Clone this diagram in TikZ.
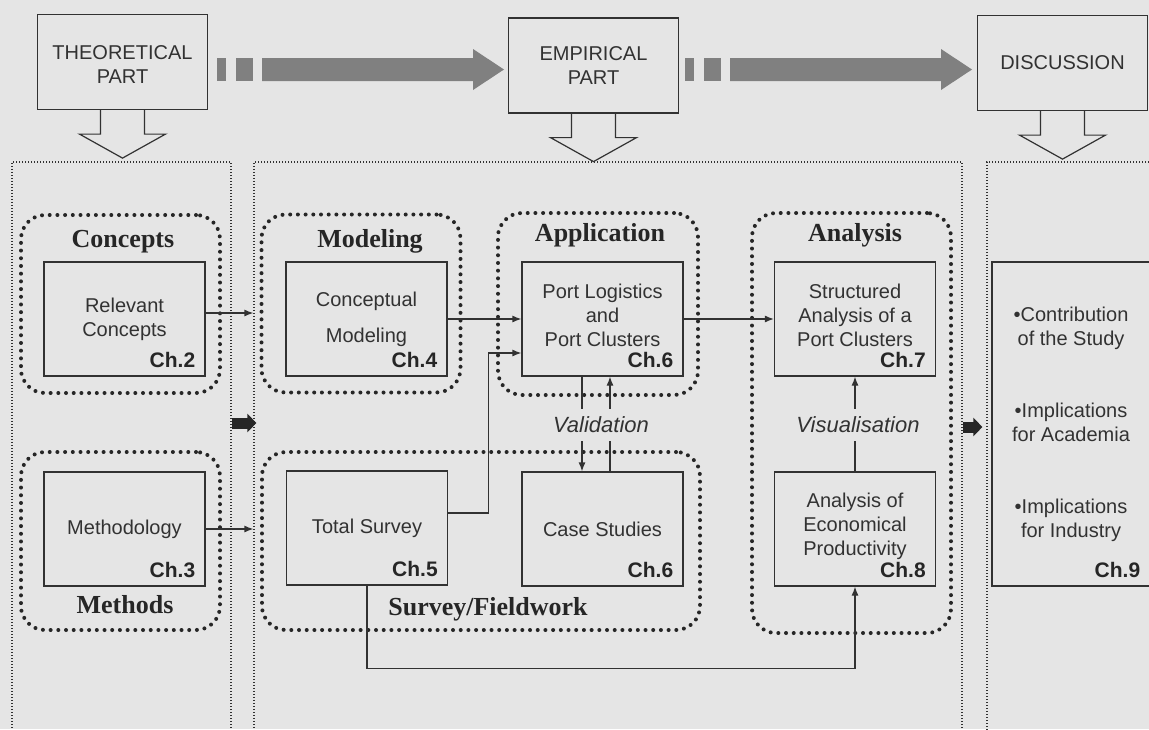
\documentclass[tikz,border=0pt]{standalone}
\usepackage{fontspec}
\setmainfont{Liberation Serif}
\setsansfont{Liberation Sans}
\usepackage{tikz}
\usetikzlibrary{arrows.meta}

\definecolor{bggray}{RGB}{229,229,229}
\definecolor{arrowgray}{RGB}{128,128,128}
\definecolor{ink}{RGB}{50,50,50}

\tikzset{
	partbox/.style={draw=ink, line width=0.6pt, minimum width=85pt, minimum height=47.5pt, align=center, text=ink, font=\sffamily\fontsize{10}{12}\selectfont},
	panel/.style={draw=ink, line width=0.6pt, dash pattern=on 0.6pt off 0.9pt, inner sep=0pt},
	grpbox/.style={draw=black!85, line width=2pt, line cap=round, dash pattern=on 0pt off 3.85pt, rounded corners=12pt, minimum width=99.5pt, minimum height=89pt, inner sep=0pt},
	chbox/.style={draw=ink, line width=0.6pt, minimum width=80.5pt, minimum height=57pt, align=center, inner sep=0pt, text=ink, font=\sffamily\fontsize{10}{12}\selectfont},
	chtext/.style={align=center, inner sep=0pt, text=ink, font=\sffamily\fontsize{10}{12}\selectfont},
	chap/.style={anchor=base east, inner sep=0pt, text=black!85, font=\sffamily\bfseries\fontsize{10.5}{12}\selectfont},
	heading/.style={anchor=base, inner sep=0pt, text=black!85, font=\rmfamily\bfseries\fontsize{13}{15}\selectfont},
	conn/.style={draw=ink, line width=0.6pt, -{Latex[length=4.5pt,width=3.5pt]}},
	midlabel/.style={fill=bggray, inner xsep=2pt, inner ysep=4pt, text=ink, font=\sffamily\itshape\fontsize{11}{13}\selectfont},
	blockarrow/.style={draw=black!85, line width=5.5pt, -{Triangle[length=4.5pt,width=9pt]}}
}

\begin{document}
\begin{tikzpicture}[x=0.5pt, y=-0.5pt]
		\useasboundingbox (0,0) rectangle (1149,729);
		\clip (0,0) rectangle (1149,729);
		\fill[bggray] (0,0) rectangle (1149,729);

		% the three parts on top
		\node[partbox] (theo) at (122.5,62) {\\[-3pt]THEORETICAL\\PART};
		\node[partbox] (emp) at (593.5,65.5) {EMPIRICAL\\PART};
		\node[partbox] (disc) at (1062.5,63) {DISCUSSION};

		% hollow arrows down into the panels
		\foreach \n in {theo,emp,disc}
			\draw[ink, line width=0.6pt] (\n.south) ++(-22,0) -- ++(0,24) -- ++(-21,0) -- ++(43,24) -- ++(43,-24) -- ++(-21,0) -- ++(0,-24);

		% gray progress arrows
		\foreach \xa/\xb in {217/504, 685/972} {
			\fill[arrowgray] (\xa,58) rectangle ++(9,23);
			\fill[arrowgray] (\xa+19,58) rectangle ++(17,23);
			\fill[arrowgray] (\xa+45,58) -- (\xb-31,58) -- (\xb-31,49) -- (\xb,69.5) -- (\xb-31,90) -- (\xb-31,81) -- (\xa+45,81) -- cycle;
		}

		% panels
		\node[panel, minimum width=109.5pt, minimum height=289pt] (pthe) at (121.5,451) {};
		\node[panel, minimum width=354pt, minimum height=289pt] (pemp) at (608,451) {};
		\node[panel, minimum width=86.5pt, minimum height=289pt] (pdis) at (1073.5,451) {};

		% dotted groups
		\node[grpbox] (gconc) at (120.5,304) {};
		\node[grpbox] (gmeth) at (120.5,541) {};
		\node[grpbox] (gmod) at (361,303.5) {};
		\node[grpbox, minimum width=100pt, minimum height=91pt] (gapp) at (598,304) {};
		\node[grpbox, minimum width=219pt] (gsurv) at (481,541) {};
		\node[grpbox, minimum height=210pt] (gana) at (851.5,423) {};

		\node[heading] (hconc) at (123,247) {Concepts};
		\node[heading] (hmod) at (370,247) {Modeling};
		\node[heading] (happ) at (600,241) {Application};
		\node[heading] (hana) at (855,241) {Analysis};
		\node[heading] (hmeth) at (125,613) {Methods};
		\node[heading] (hsurv) at (488,615) {Survey/Fieldwork};

		% chapters
		\node[chbox] (rc) at (124.5,319) {Relevant\\Concepts};
		\node[chbox] (cm) at (366.5,319) {Conceptual\\[6pt]Modeling};
		\node[chbox] (pl) at (602.5,319) {};
		\node[chbox] (sa) at (855,319) {};
		\node[chbox] (meth) at (124.5,529) {Methodology};
		\node[chbox] (ts) at (367,528) {Total Survey};
		\node[chbox] (cs) at (602.5,529) {Case Studies};
		\node[chbox] (ae) at (855,529) {};
		\node[chbox, minimum width=79pt, minimum height=162pt] (res) at (1071,424) {•Contribution\\of the Study\\[24pt]•Implications\\for Academia\\[24pt]•Implications\\for Industry};
		\node[chtext] (plt) at ([yshift=2pt]pl.center) {Port Logistics\\and\\Port Clusters};
		\node[chtext] (sat) at ([yshift=2pt]sa.center) {Structured\\Analysis of a\\Port Clusters};
		\node[chtext] (aet) at ([yshift=1.5pt]ae.center) {Analysis of\\Economical\\Productivity};

		\foreach \b/\c in {rc/2, meth/3, cm/4, ts/5, pl/6, cs/6, sa/7, ae/8, res/9}
			\node[chap] (ch\b) at ([xshift=-5pt,yshift=4.5pt]\b.south east) {Ch.\c};

		% connectors
		\coordinate (e1) at (rc.east -| pemp.west);
		\coordinate (e2) at (meth.east -| pemp.west);
		\draw[conn] ([yshift=3pt]rc.east) -- ([yshift=3pt]e1);
		\draw[conn] (meth.east) -- (e2);
		\draw[conn] (cm) -- (pl);
		\draw[conn] (pl) -- (sa);
		\draw[conn] ([yshift=7.5pt]ts.east) -- ++(40,0) |- ([yshift=-17pt]pl.west);
		\draw[conn] ([xshift=-10.25pt]pl.south) -- ([xshift=-10.25pt]cs.north);
		\draw[conn] ([xshift=3.75pt]cs.north) -- ([xshift=3.75pt]pl.south);
		\draw[conn] (ae) -- (sa);
		\draw[conn] (ts.south) -- ++(0,83) -| (ae.south);
		\node[midlabel] (val) at (601,425) {Validation};
		\node[midlabel] (vis) at (858,425) {Visualisation};

		% black arrows between the panels
		\draw[blockarrow] ([yshift=14pt]pthe.east) -- ([xshift=1.5pt,yshift=14pt]pemp.west);
		\draw[blockarrow] ([yshift=12pt]pemp.east) -- ([xshift=-2pt,yshift=12pt]pdis.west);
\end{tikzpicture}
\end{document}
